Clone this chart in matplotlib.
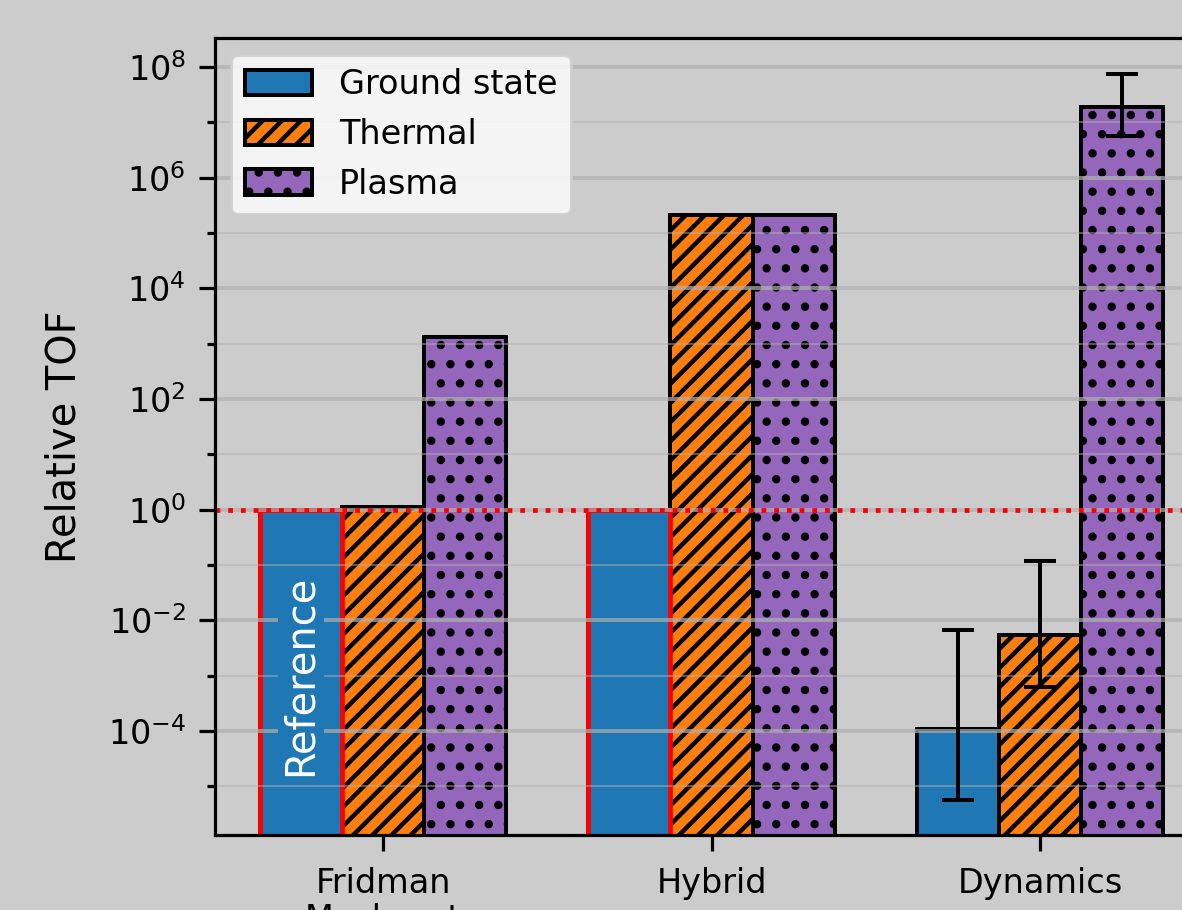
import numpy as np
import matplotlib
matplotlib.use('Agg')
import matplotlib.pyplot as plt
from matplotlib.ticker import NullFormatter

# TOF relative to the ground state reference
categories = ['Fridman\nMacheret', 'Hybrid', 'Dynamics']
ground_state = [1.0, 1.0, 1.07e-4]
thermal = [1.13, 2.13e5, 5.5e-3]
plasma = [1.32e3, 2.13e5, 1.92e7]

# which ground state bars are the reference (drawn with red edges)
is_reference = [True, True, False]

# uncertainty range for the dynamics model (ground, thermal, plasma)
dyn_low = [5.6e-6, 6.3e-4, 5.6e6]
dyn_high = [6.6e-3, 1.18e-1, 7.4e7]

dpi = 230
plt.rcParams['font.size'] = 10.5
plt.rcParams['hatch.linewidth'] = 1.4
plt.rcParams['axes.linewidth'] = 1.0

fig = plt.figure(figsize=(1182 / dpi, 910 / dpi), dpi=dpi, facecolor='#cccccc')
ax = fig.add_axes([0.1816, 0.0824, 0.8407, 0.8758])
ax.set_facecolor('#cccccc')

x = np.arange(len(categories))
w = 0.25

b1 = ax.bar(x - w, ground_state, w, color='C0', edgecolor='black', lw=1.25, label='Ground state')
b2 = ax.bar(x, thermal, w, color='C1', edgecolor='black', lw=1.25, hatch='////', label='Thermal')
b3 = ax.bar(x + w, plasma, w, color='C4', edgecolor='black', lw=1.25, hatch='..', label='Plasma')

# reference bars on top with red outline
ref = np.array(is_reference)
ax.bar(x[ref] - w, np.array(ground_state)[ref], w, color='C0', edgecolor='red', lw=1.5)

# error bars for the dynamics column
dyn_y = np.array([ground_state[2], thermal[2], plasma[2]])
yerr = [dyn_y - np.array(dyn_low), np.array(dyn_high) - dyn_y]
ax.errorbar(x[2] + np.array([-w, 0, w]), dyn_y, yerr=yerr, fmt='none',
            ecolor='black', elinewidth=1.25, capsize=5, capthick=1.25)

ax.axhline(1.0, color='red', ls=':', lw=1.5)

ax.text(-w, 1e-3, 'Reference', rotation=90, color='white', fontsize=12.5,
        ha='center', va='center', zorder=3,
        bbox=dict(facecolor='C0', edgecolor='none', pad=1))

ax.set_yscale('log')
ax.set_ylim(1.32e-6, 3.35e8)
ax.set_xlim(-0.5125, 2.5125)
ax.set_yticks([10.0 ** k for k in range(-4, 9, 2)])
ax.set_yticks([10.0 ** k for k in range(-5, 8, 2)], minor=True)
ax.yaxis.set_minor_formatter(NullFormatter())
ax.set_xticks(x)
ax.set_xticklabels(categories, linespacing=1.1)
ax.tick_params(which='major', length=5, width=1.0, pad=4)
ax.tick_params(axis='x', which='major', pad=5)
ax.tick_params(which='minor', length=2.5, width=1.0)

ax.grid(which='major', axis='y', color='#b0b0b0', alpha=0.7, lw=1.25)
ax.grid(which='minor', axis='y', color='#b0b0b0', alpha=0.5, lw=0.6)

ax.set_ylabel('Relative TOF', fontsize=12.5)
ax.yaxis.set_label_coords(-0.131, 0.5)

ax.legend(handles=[b1, b2, b3], loc='upper left', handleheight=0.8)

fig.savefig('out.png', dpi=dpi, facecolor=fig.get_facecolor())
